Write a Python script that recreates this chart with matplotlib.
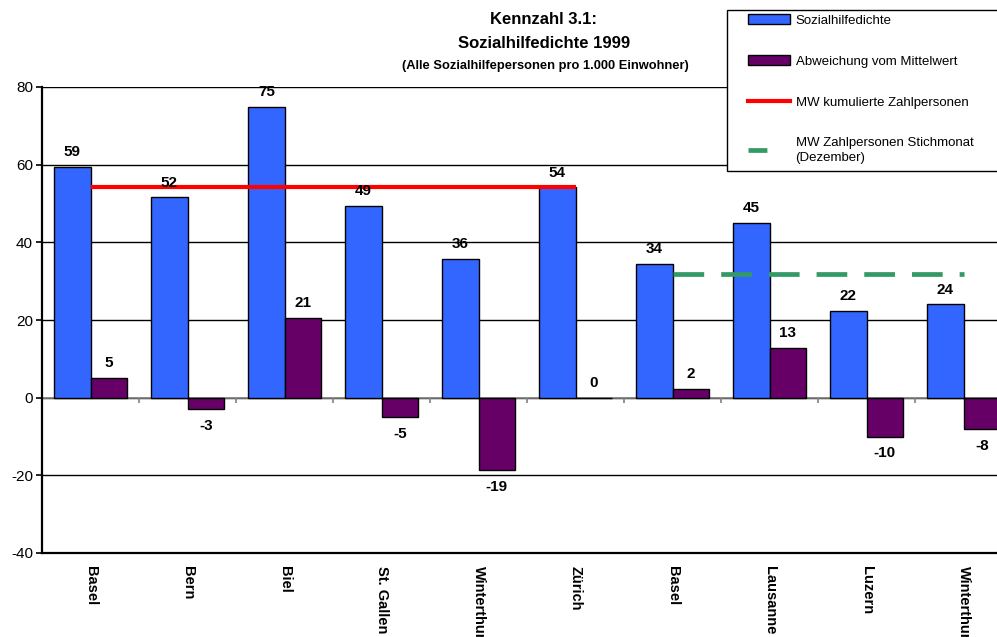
import matplotlib
matplotlib.use("Agg")
import matplotlib.pyplot as plt
from matplotlib.patches import Patch, Rectangle
from matplotlib.lines import Line2D
import numpy as np

plt.rcParams['font.family'] = ['Liberation Sans', 'DejaVu Sans']
plt.rcParams['axes.unicode_minus'] = False

# Kennzahl 3.1 - Sozialhilfedichte 1999
staedte = ["Basel", "Bern", "Biel", "St. Gallen", "Winterthur", "Zürich",
           "Basel", "Lausanne", "Luzern", "Winterthur"]
dichte = [59.4, 51.6, 74.9, 49.4, 35.7, 54.2, 34.4, 45.0, 22.3, 24.0]
abweichung = [5.1, -2.9, 20.6, -5.0, -18.6, 0.0, 2.2, 12.8, -10.0, -8.1]

# Mittelwerte je Gruppe (kumuliert: Basel..Zürich, Stichmonat: Basel..Winterthur)
mw_kumuliert = 54.3
mw_stichmonat = 31.9
gruppe_kum = slice(0, 6)
gruppe_stich = slice(6, 10)

blau = "#3366FF"
lila = "#660066"
rot = "#FF0000"
gruen = "#339966"

fig = plt.figure(figsize=(9.97, 6.37), dpi=100)
ax = fig.add_axes([42 / 997, 1 - 553 / 637, 970 / 997, 466 / 637])

x = np.arange(len(staedte)) + 0.5
w = 0.375
b1 = ax.bar(x - w / 2, dichte, w, color=blau, edgecolor="black", linewidth=1, zorder=3)
b2 = ax.bar(x + w / 2, abweichung, w, color=lila, edgecolor="black", linewidth=1, zorder=3)

ax.plot(x[gruppe_kum], [mw_kumuliert] * len(x[gruppe_kum]), color=rot, lw=3,
        solid_capstyle="butt", zorder=4)
ax.plot(x[gruppe_stich], [mw_stichmonat] * len(x[gruppe_stich]), color=gruen, lw=3.4,
        dashes=(6.5, 3.6), dash_capstyle="butt", zorder=4)

# Werte an den Balken
for bars, vals in ((b1, dichte), (b2, abweichung)):
    for r, v in zip(bars, vals):
        cx = r.get_x() + r.get_width() / 2
        if v >= 0:
            ax.annotate(f"{round(v)}", (cx, v), xytext=(0, 5.5), textcoords="offset points",
                        ha="center", va="bottom", fontsize=11, fontweight="bold", zorder=5)
        else:
            ax.annotate(f"{round(v)}", (cx, v), xytext=(0, -7), textcoords="offset points",
                        ha="center", va="top", fontsize=11, fontweight="bold", zorder=5)

ax.set_xlim(0, len(staedte))
ax.set_ylim(-40, 80)
ax.set_yticks(range(-40, 81, 20))
ax.grid(axis="y", color="black", lw=1, zorder=0)
ax.set_axisbelow(True)

# Nulllinie mit Kategorie-Trennstrichen
ax.axhline(0, color="#808080", lw=1.2, zorder=2)
ax.vlines(np.arange(len(staedte) + 1), 0, -1.5, color="#808080", lw=1.2, zorder=2)

ax.set_xticks(x)
ax.set_xticklabels(staedte, rotation=270, fontsize=10.5, fontweight="bold",
                   ha="center", va="top")
ax.tick_params(axis="x", length=0, pad=9)
ax.tick_params(axis="y", length=4.5, width=1.2, labelsize=11, pad=2)

for s in ("top", "right"):
    ax.spines[s].set_visible(False)
ax.spines["left"].set_linewidth(1.6)
ax.spines["bottom"].set_linewidth(1.6)

# Titel
fig.text(544 / 997, 1 - 20 / 637, "Kennzahl 3.1:", ha="center", va="center",
         fontsize=12, fontweight="bold")
fig.text(544 / 997, 1 - 44 / 637, "Sozialhilfedichte 1999", ha="center", va="center",
         fontsize=12, fontweight="bold")
fig.text(545 / 997, 1 - 66 / 637, "(Alle Sozialhilfepersonen pro 1.000 Einwohner)",
         ha="center", va="center", fontsize=9.3, fontweight="bold")

# Legende mit eigenem Rahmen
fig.patches.append(Rectangle((727 / 997, 1 - 171 / 637), 280 / 997, 161 / 637,
                             transform=fig.transFigure, facecolor="white",
                             edgecolor="black", lw=1, zorder=2))
handles = [
    Patch(facecolor=blau, edgecolor="black", lw=1),
    Patch(facecolor=lila, edgecolor="black", lw=1),
    Line2D([], [], color=rot, lw=3),
    Line2D([], [], color=gruen, lw=3.4, dashes=(4, 20)),
]
labels = ["Sozialhilfedichte", "Abweichung vom Mittelwert",
          "MW kumulierte Zahlpersonen", "MW Zahlpersonen Stichmonat\n(Dezember)"]
leg = fig.legend(handles, labels, loc="upper left",
                 bbox_to_anchor=(748 / 997, 1 - 14 / 637), frameon=False,
                 fontsize=9.5, handlelength=3.2, handleheight=0.8, handletextpad=0.4,
                 labelspacing=2.15, borderpad=0, borderaxespad=0)
leg.get_texts()[3].set_linespacing(1.3)
leg.set_zorder(5)

fig.savefig("out.png", dpi=100)
